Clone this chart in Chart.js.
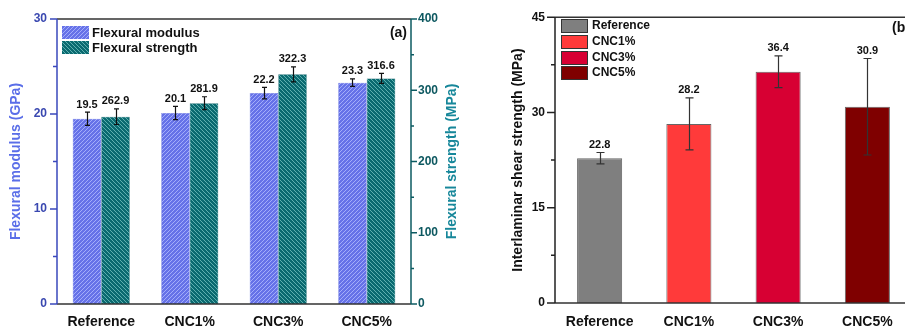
<!DOCTYPE html>
<html>
<head>
<meta charset="utf-8">
<script src="https://cdn.jsdelivr.net/npm/chart.js@4/dist/chart.umd.min.js"></script>
<style>
  html, body { margin: 0; padding: 0; background: #fff; overflow: hidden; width: 905px; height: 327px; }
  #wrapA { position: absolute; left: 0; top: 0; width: 470px; height: 327px; }
  #wrapB { position: absolute; left: 455px; top: 0; width: 470px; height: 327px; }
</style>
</head>
<body>
<div id="wrapA"><canvas id="chartA" width="470" height="327"></canvas></div>
<div id="wrapB"><canvas id="chartB" width="470" height="327"></canvas></div>
<script>
// data
const categories = ['Reference', 'CNC1%', 'CNC3%', 'CNC5%'];
const modulus = [19.5, 20.1, 22.2, 23.3];
const modulusErr = [0.7, 0.7, 0.6, 0.4];
const strength = [262.9, 281.9, 322.3, 316.6];
const strengthErr = [11, 9, 10.5, 7];
const ilss = [22.8, 28.2, 36.4, 30.9];
const ilssErr = [0.9, 4.1, 2.5, 7.6];
const modulusTicks = [0, 10, 20, 30];
const strengthTicks = [0, 100, 200, 300, 400];
const ilssTicks = [0, 15, 30, 45];

const FONT = '"Liberation Sans", Arial, sans-serif';
const ilssColors = ['#7f7f7f', '#ff3a3a', '#d70033', '#7f0000'];

function hatch(bg, line, dir) {
  const c = document.createElement('canvas');
  c.width = 4; c.height = 4;
  const x = c.getContext('2d');
  x.fillStyle = bg; x.fillRect(0, 0, 4, 4);
  x.strokeStyle = line; x.lineWidth = 1;
  x.beginPath();
  if (dir > 0) {
    x.moveTo(0, 4); x.lineTo(4, 0);
    x.moveTo(-1, 1); x.lineTo(1, -1);
    x.moveTo(3, 5); x.lineTo(5, 3);
  } else {
    x.moveTo(0, 0); x.lineTo(4, 4);
    x.moveTo(-1, 3); x.lineTo(1, 5);
    x.moveTo(3, -1); x.lineTo(5, 1);
  }
  x.stroke();
  return x.createPattern(c, 'repeat');
}
const bluePat = hatch('#6672e8', '#a3adfa', 1);
const tealPat = hatch('#0a6a70', '#5fb0b0', -1);

function setTicks(arr) {
  return function (s) { s.ticks = arr.map(v => ({ value: v })); };
}

function yAxisLine(ctx, scale, x, majors, dir, majLen, minLen, color) {
  ctx.save();
  ctx.strokeStyle = color;
  ctx.lineWidth = 1.5;
  ctx.beginPath();
  ctx.moveTo(x, scale.top); ctx.lineTo(x, scale.bottom);
  for (let i = 0; i < majors.length; i++) {
    let y = scale.getPixelForValue(majors[i]);
    ctx.moveTo(x, y); ctx.lineTo(x + dir * majLen, y);
    if (i < majors.length - 1) {
      let ym = scale.getPixelForValue((majors[i] + majors[i + 1]) / 2);
      ctx.moveTo(x, ym); ctx.lineTo(x + dir * minLen, ym);
    }
  }
  ctx.stroke();
  ctx.restore();
}

function drawErrors(chart, capHalf, color, gap) {
  const ctx = chart.ctx;
  chart.data.datasets.forEach((ds, i) => {
    const meta = chart.getDatasetMeta(i);
    const sc = chart.scales[meta.yAxisID];
    meta.data.forEach((bar, j) => {
      const v = ds.data[j], e = ds.errs[j];
      const x = Math.round(bar.x) + 0.5;
      const yt = sc.getPixelForValue(v + e), yb = sc.getPixelForValue(v - e);
      ctx.save();
      ctx.strokeStyle = color; ctx.lineWidth = 1.2;
      ctx.beginPath();
      ctx.moveTo(x, yt); ctx.lineTo(x, yb);
      ctx.moveTo(x - capHalf, yt); ctx.lineTo(x + capHalf, yt);
      ctx.moveTo(x - capHalf, yb); ctx.lineTo(x + capHalf, yb);
      ctx.stroke();
      ctx.fillStyle = '#111';
      ctx.font = 'bold 11px ' + FONT;
      ctx.textAlign = 'center'; ctx.textBaseline = 'bottom';
      ctx.fillText(v.toFixed(1), bar.x, yt - gap);
      ctx.restore();
    });
  });
}

const panelA = {
  id: 'panelA',
  afterDraw(chart) {
    const ctx = chart.ctx, a = chart.chartArea;
    drawErrors(chart, 2.5, '#111', 2);
    // frame
    ctx.save();
    ctx.strokeStyle = '#333'; ctx.lineWidth = 1.5;
    ctx.beginPath();
    ctx.moveTo(a.left, a.top); ctx.lineTo(a.right, a.top);
    ctx.moveTo(a.left, a.bottom); ctx.lineTo(a.right, a.bottom);
    ctx.stroke();
    ctx.restore();
    yAxisLine(ctx, chart.scales.yL, a.left, modulusTicks, -1, 7, 4, '#3a48bc');
    yAxisLine(ctx, chart.scales.yR, a.right, strengthTicks, 1, 6, 3, '#0c5b62');
    // right axis title, reads upward
    ctx.save();
    ctx.translate(452, (a.top + a.bottom) / 2);
    ctx.rotate(-Math.PI / 2);
    ctx.fillStyle = '#17879a';
    ctx.font = 'bold 14px ' + FONT;
    ctx.textAlign = 'center'; ctx.textBaseline = 'middle';
    ctx.fillText('Flexural strength (MPa)', 0, 0);
    ctx.restore();
    // legend
    ctx.save();
    const items = [['Flexural modulus', bluePat], ['Flexural strength', tealPat]];
    items.forEach((it, k) => {
      const y = 26 + k * 15;
      ctx.fillStyle = it[1];
      ctx.fillRect(62, y, 27, 13);
      ctx.fillStyle = '#111';
      ctx.font = 'bold 13px ' + FONT;
      ctx.textAlign = 'left'; ctx.textBaseline = 'middle';
      ctx.fillText(it[0], 92, y + 7);
    });
    ctx.font = 'bold 14px ' + FONT;
    ctx.textAlign = 'right';
    ctx.fillText('(a)', 407, 33);
    ctx.restore();
  }
};

const panelB = {
  id: 'panelB',
  afterDraw(chart) {
    const ctx = chart.ctx, a = chart.chartArea;
    drawErrors(chart, 4, '#333', 2);
    ctx.save();
    ctx.strokeStyle = '#333'; ctx.lineWidth = 1.5;
    ctx.beginPath();
    ctx.moveTo(a.left, a.top); ctx.lineTo(chart.width, a.top);
    ctx.moveTo(a.left, a.bottom); ctx.lineTo(chart.width, a.bottom);
    ctx.stroke();
    ctx.restore();
    yAxisLine(ctx, chart.scales.y, a.left, ilssTicks, -1, 8, 4, '#222');
    ctx.save();
    categories.forEach((c, k) => {
      const y = [19, 35, 51, 66][k];
      ctx.fillStyle = ilssColors[k];
      ctx.fillRect(106, y, 27, 13);
      ctx.strokeStyle = '#333'; ctx.lineWidth = 1;
      ctx.strokeRect(106.5, y + 0.5, 26, 13);
      ctx.fillStyle = '#111';
      ctx.font = 'bold 12px ' + FONT;
      ctx.textAlign = 'left'; ctx.textBaseline = 'middle';
      ctx.fillText(c, 137, y + 7);
    });
    ctx.font = 'bold 14px ' + FONT;
    ctx.textAlign = 'left';
    ctx.fillText('(b)', 437, 28);
    ctx.restore();
  }
};

const noGrid = { display: false, drawTicks: false };

new Chart(document.getElementById('chartA'), {
  type: 'bar',
  data: {
    labels: categories,
    datasets: [
      { label: 'Flexural modulus', data: modulus, errs: modulusErr, yAxisID: 'yL',
        backgroundColor: bluePat, borderColor: '#5966d8', borderWidth: 0.5 },
      { label: 'Flexural strength', data: strength, errs: strengthErr, yAxisID: 'yR',
        backgroundColor: tealPat, borderColor: '#0a5a60', borderWidth: 0.5 }
    ]
  },
  options: {
    responsive: false,
    animation: false,
    devicePixelRatio: 1,
    layout: { padding: { top: 19, left: 0, right: 0, bottom: 0 } },
    datasets: { bar: { categoryPercentage: 0.645, barPercentage: 1 } },
    plugins: { legend: { display: false }, tooltip: { enabled: false } },
    scales: {
      x: {
        grid: noGrid, border: { display: false },
        ticks: { color: '#111', padding: 10, font: { family: FONT, size: 14, weight: 'bold' } },
        afterFit: s => { s.height = 23; }
      },
      yL: {
        position: 'left', min: 0, max: 30,
        grid: noGrid, border: { display: false },
        afterBuildTicks: setTicks(modulusTicks),
        ticks: { color: '#3a48b0', padding: 10, font: { family: FONT, size: 12, weight: 'bold' } },
        title: { display: true, text: 'Flexural modulus (GPa)', color: '#5a6ee8',
          font: { family: FONT, size: 14, weight: 'bold' }, padding: { top: 8, bottom: 0 } },
        afterFit: s => { s.width = 57; }
      },
      yR: {
        position: 'right', min: 0, max: 400,
        grid: noGrid, border: { display: false },
        afterBuildTicks: setTicks(strengthTicks),
        ticks: { color: '#0d5860', padding: 7, font: { family: FONT, size: 12, weight: 'bold' } },
        afterFit: s => { s.width = 59; }
      }
    }
  },
  plugins: [panelA]
});

new Chart(document.getElementById('chartB'), {
  type: 'bar',
  data: {
    labels: categories,
    datasets: [
      { label: 'ILSS', data: ilss, errs: ilssErr, yAxisID: 'y',
        backgroundColor: ilssColors, borderColor: '#666', borderWidth: 1 }
    ]
  },
  options: {
    responsive: false,
    animation: false,
    devicePixelRatio: 1,
    layout: { padding: { top: 15, left: 0, right: 13, bottom: 0 } },
    datasets: { bar: { categoryPercentage: 0.505, barPercentage: 1 } },
    plugins: { legend: { display: false }, tooltip: { enabled: false } },
    scales: {
      x: {
        grid: noGrid, border: { display: false },
        ticks: { color: '#111', padding: 11, font: { family: FONT, size: 14, weight: 'bold' } },
        afterFit: s => { s.height = 24; }
      },
      y: {
        position: 'left', min: 0, max: 45,
        grid: noGrid, border: { display: false },
        afterBuildTicks: setTicks(ilssTicks),
        ticks: { color: '#111', padding: 10, font: { family: FONT, size: 12, weight: 'bold' } },
        title: { display: true, text: 'Interlaminar shear strength (MPa)', color: '#111',
          font: { family: FONT, size: 14, weight: 'bold' }, padding: { top: 55, bottom: 0 } },
        afterFit: s => { s.width = 100; }
      }
    }
  },
  plugins: [panelB]
});
</script>
</body>
</html>
